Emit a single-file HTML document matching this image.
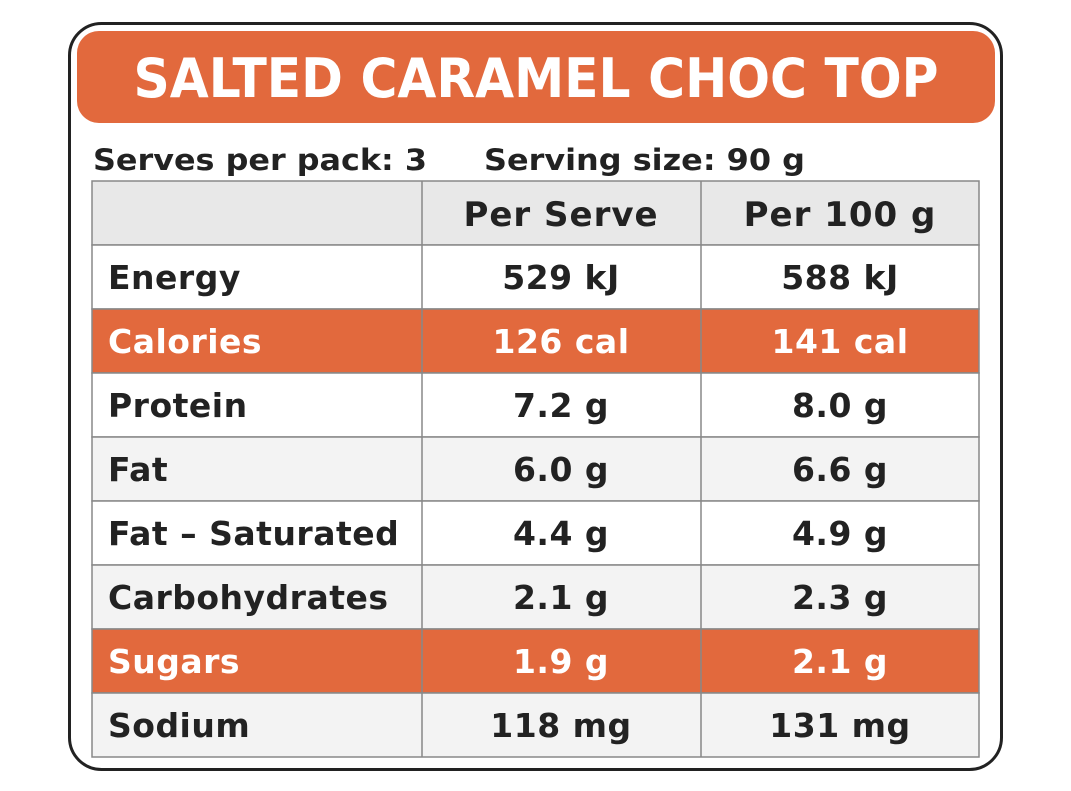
<!DOCTYPE html>
<html><head><meta charset="utf-8"><style>html,body{margin:0;padding:0;background:#fff}svg{display:block}</style></head><body>
<svg width="1071" height="791" xmlns="http://www.w3.org/2000/svg" font-family="'DejaVu Sans','Liberation Sans',sans-serif" font-weight="bold">
<rect x="69.5" y="23.5" width="932" height="746" rx="32" fill="#fff" stroke="#222" stroke-width="3"/>
<rect x="77" y="31" width="918" height="92" rx="22" fill="#E2693D"/>
<text x="536" y="97" text-anchor="middle" fill="#fff" font-size="54" textLength="805" lengthAdjust="spacingAndGlyphs">SALTED CARAMEL CHOC TOP</text>
<text x="93" y="170" fill="#222" font-size="29" textLength="334" lengthAdjust="spacingAndGlyphs">Serves per pack: 3</text>
<text x="484" y="170" fill="#222" font-size="29" textLength="321" lengthAdjust="spacingAndGlyphs">Serving size: 90 g</text>
<g stroke="#888" stroke-width="1.5">
<rect x="92" y="181" width="887" height="64" fill="#e8e8e8"/>
<rect x="92" y="245" width="887" height="64" fill="#fff"/>
<rect x="92" y="309" width="887" height="64" fill="#E2693D"/>
<rect x="92" y="373" width="887" height="64" fill="#fff"/>
<rect x="92" y="437" width="887" height="64" fill="#f3f3f3"/>
<rect x="92" y="501" width="887" height="64" fill="#fff"/>
<rect x="92" y="565" width="887" height="64" fill="#f3f3f3"/>
<rect x="92" y="629" width="887" height="64" fill="#E2693D"/>
<rect x="92" y="693" width="887" height="64" fill="#f3f3f3"/>
<line x1="422" y1="181" x2="422" y2="757"/>
<line x1="701" y1="181" x2="701" y2="757"/>
</g>
<g font-size="34" fill="#222" letter-spacing="1">
<text x="561" y="226" text-anchor="middle">Per Serve</text>
<text x="840" y="226" text-anchor="middle">Per 100 g</text>
</g>
<g font-size="33" fill="#222" letter-spacing="0.5">
<text x="108" y="289">Energy</text><text x="561" y="289" text-anchor="middle">529 kJ</text><text x="840" y="289" text-anchor="middle">588 kJ</text>
<g fill="#fff"><text x="108" y="353">Calories</text><text x="561" y="353" text-anchor="middle">126 cal</text><text x="840" y="353" text-anchor="middle">141 cal</text></g>
<text x="108" y="417">Protein</text><text x="561" y="417" text-anchor="middle">7.2 g</text><text x="840" y="417" text-anchor="middle">8.0 g</text>
<text x="108" y="481">Fat</text><text x="561" y="481" text-anchor="middle">6.0 g</text><text x="840" y="481" text-anchor="middle">6.6 g</text>
<text x="108" y="545">Fat – Saturated</text><text x="561" y="545" text-anchor="middle">4.4 g</text><text x="840" y="545" text-anchor="middle">4.9 g</text>
<text x="108" y="609">Carbohydrates</text><text x="561" y="609" text-anchor="middle">2.1 g</text><text x="840" y="609" text-anchor="middle">2.3 g</text>
<g fill="#fff"><text x="108" y="673">Sugars</text><text x="561" y="673" text-anchor="middle">1.9 g</text><text x="840" y="673" text-anchor="middle">2.1 g</text></g>
<text x="108" y="737">Sodium</text><text x="561" y="737" text-anchor="middle">118 mg</text><text x="840" y="737" text-anchor="middle">131 mg</text>
</g>
</svg>
</body></html>
